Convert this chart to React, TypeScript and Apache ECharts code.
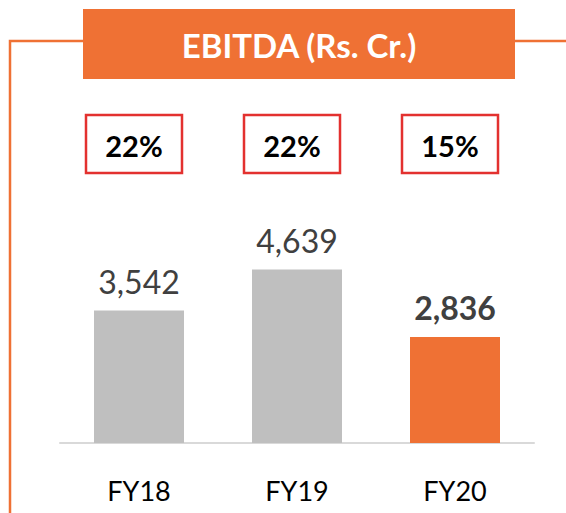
import React, { useEffect, useRef } from "react";
import * as echarts from "echarts";

const categories = ["FY18", "FY19", "FY20"];
const ebitdaValues = [3542, 4639, 2836];
const marginLabels = ["22%", "22%", "15%"];
const titleText = "EBITDA (Rs. Cr.)";

const ORANGE = "#ef7134";
const GRAY = "#bfbfbf";
const FONT = "Lato, 'Open Sans', sans-serif";

export default function App() {
  const ref = useRef<HTMLDivElement>(null);

  useEffect(() => {
    if (!ref.current) return;
    const chart = echarts.init(ref.current, undefined, { renderer: "svg" });

    const barData = ebitdaValues.map((v, i) => {
      const last = i === ebitdaValues.length - 1;
      return {
        value: v,
        itemStyle: { color: last ? ORANGE : GRAY },
        label: {
          fontWeight: last ? "bold" : "normal",
        },
      };
    });

    chart.setOption({
      animation: false,
      backgroundColor: "#ffffff",
      grid: { left: 60, right: 32, top: 256, bottom: 70, containLabel: false },
      xAxis: {
        type: "category",
        data: categories,
        axisLine: { show: true, lineStyle: { color: "#d9d9d9", width: 2 } },
        axisTick: { show: false },
        axisLabel: {
          color: "#000000",
          fontSize: 27,
          fontFamily: FONT,
          margin: 34,
        },
      },
      yAxis: {
        type: "value",
        min: 0,
        max: 5000,
        show: false,
        splitLine: { show: false },
      },
      graphic: [
        {
          type: "polyline",
          shape: { points: [[83, 41], [10, 41], [10, 513]] },
          style: { stroke: ORANGE, lineWidth: 2.5, fill: "none" },
        },
        {
          type: "line",
          shape: { x1: 515, y1: 41, x2: 566, y2: 41 },
          style: { stroke: ORANGE, lineWidth: 2.5 },
        },
        {
          type: "rect",
          shape: { x: 83, y: 9, width: 432, height: 70 },
          style: { fill: ORANGE },
        },
        {
          type: "text",
          x: 299,
          y: 45,
          style: {
            text: titleText,
            fill: "#ffffff",
            fontSize: 33,
            fontWeight: "bold",
            fontFamily: FONT,
            align: "center",
            verticalAlign: "middle",
          },
        },
      ],
      series: [
        {
          type: "bar",
          data: barData,
          barWidth: 90,
          label: {
            show: true,
            position: "top",
            distance: 13,
            color: "#404040",
            fontSize: 32,
            fontFamily: FONT,
            formatter: (p: any) => Number(p.value).toLocaleString("en-US"),
          },
        },
        {
          type: "custom",
          data: marginLabels.map((_, i) => [i, 0]),
          renderItem: (params: any, api: any) => {
            const idx = api.value(0);
            const pt = api.coord([idx, 0]);
            const cx = pt[0] - 5;
            const w = 96;
            const h = 58;
            const top = 115;
            return {
              type: "group",
              children: [
                {
                  type: "rect",
                  shape: { x: cx - w / 2, y: top, width: w, height: h },
                  style: { fill: "#ffffff", stroke: "#e3312f", lineWidth: 2.5 },
                },
                {
                  type: "text",
                  x: cx,
                  y: top + h / 2 + 1,
                  style: {
                    text: marginLabels[idx],
                    fill: "#000000",
                    fontSize: 29,
                    fontWeight: "bold",
                    fontFamily: FONT,
                    align: "center",
                    verticalAlign: "middle",
                  },
                },
              ],
            };
          },
        },
      ],
    });

    return () => chart.dispose();
  }, []);

  return (
    <div
      ref={ref}
      style={{ position: "fixed", left: 0, top: 0, width: 566, height: 513 }}
    />
  );
}
